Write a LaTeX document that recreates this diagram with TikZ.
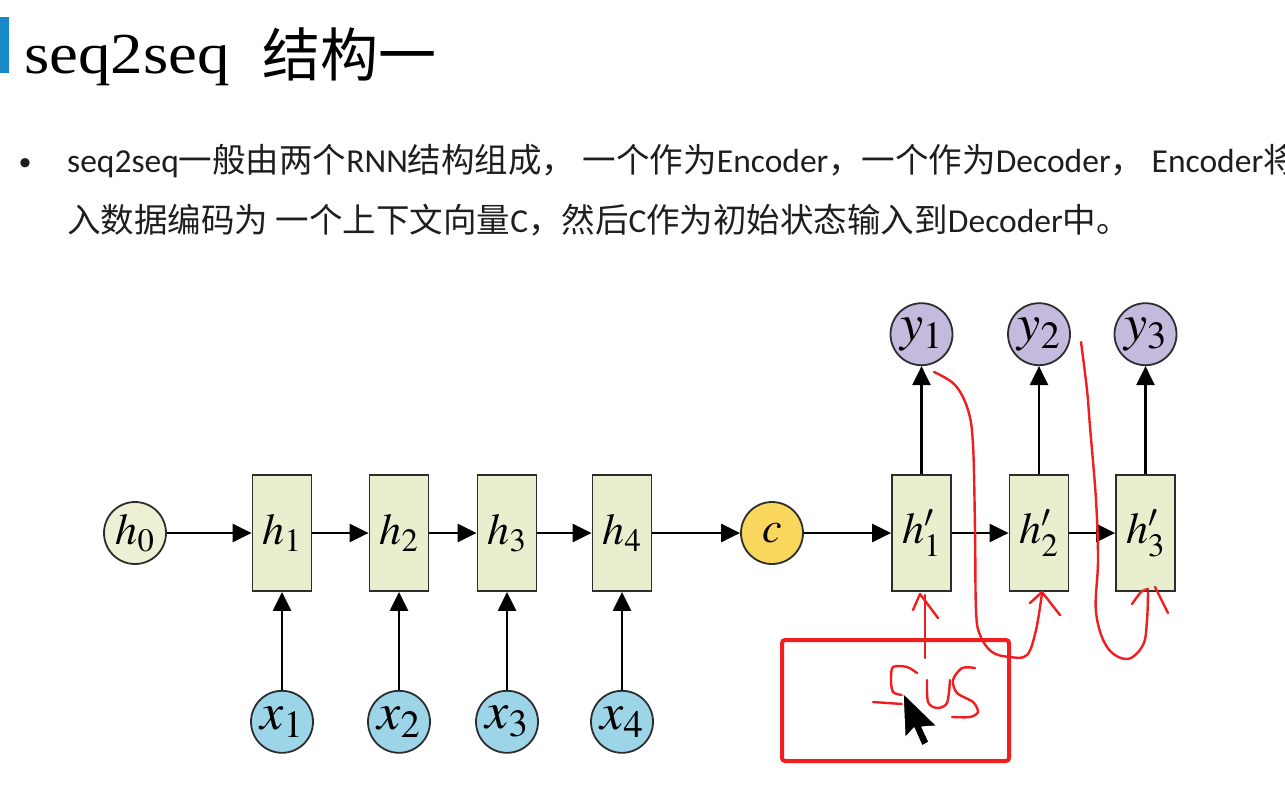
\documentclass[tikz,border=0pt]{standalone}
\usepackage{mathptmx}
\usepackage[no-math]{fontspec}
\setmainfont{Carlito}
\newfontfamily\cjk{Noto Sans CJK SC}
\newfontfamily\titlefont[FakeStretch=1.12]{Liberation Serif}
\usetikzlibrary{arrows.meta,positioning}

\definecolor{barblue}{RGB}{24,136,200}
\definecolor{cellfill}{RGB}{232,238,206}
\definecolor{hzerofill}{RGB}{238,240,214}
\definecolor{xfill}{RGB}{156,212,232}
\definecolor{yfill}{RGB}{196,186,222}
\definecolor{cfill}{RGB}{249,214,92}
\definecolor{inkred}{RGB}{240,30,30}
\definecolor{edgegray}{RGB}{45,45,45}
\definecolor{bodytext}{RGB}{30,30,30}

\tikzset{
    rnncell/.style={draw=edgegray, fill=cellfill, line width=1.8pt, minimum width=59pt,
        minimum height=116pt, inner sep=0pt, font=\fontsize{44}{44}\selectfont},
    unit/.style={circle, draw=edgegray, fill=#1, line width=1.8pt, minimum size=62pt,
        inner sep=0pt, font=\fontsize{44}{44}\selectfont},
    inp/.style={unit=xfill, font=\fontsize{52}{52}\selectfont},
    outp/.style={unit=yfill, font=\fontsize{52}{52}\selectfont},
    flow/.style={line width=2.4pt, -{Triangle[length=19pt,width=18pt]}},
    ink/.style={inkred, line width=2.4pt, line cap=round, line join=round},
    txt/.style={anchor=base west, inner sep=0pt, text=bodytext, font=\fontsize{33.5}{33.5}\selectfont},
}

\begin{document}
\begin{tikzpicture}[x=1pt, y=-1pt]
    \useasboundingbox (0,0) rectangle (1285,796);
    \clip (0,0) rectangle (1285,796);

    % title and bullet text
    \fill [barblue] (0,17) rectangle (9,73);
    \node [anchor=base west, inner sep=0pt, font=\titlefont\fontsize{58}{58}\selectfont] (title) at (24,73) {seq2seq};
    \node [anchor=base west, inner sep=0pt, font=\cjk\fontsize{58}{58}\selectfont] (titlecn) at (262,76) {结构一};
    \node [anchor=base, inner sep=0pt, text=bodytext, font=\fontsize{26}{26}\selectfont] (dot) at (25,170) {•};
    \node [txt] (line1) at (67,172) {seq2seq{\cjk 一般由两个}RNN{\cjk 结构组成，} {\cjk 一个作为}Encoder{\cjk ，一个作为}Decoder{\cjk ，} Encoder{\cjk 将}};
    \node [txt] (line2) at (67,232) {{\cjk 入数据编码为} {\cjk 一个上下文向量}C{\cjk ，然后}C{\cjk 作为初始状态输入到}Decoder{\cjk 中。}};

    % encoder
    \node [unit=hzerofill] (h0) at (135,533) {$h_0$};
    \node [rnncell] (h1) at (282,533) {$h_1$};
    \node [rnncell] (h2) at (399,533) {$h_2$};
    \node [rnncell] (h3) at (507,533) {$h_3$};
    \node [rnncell] (h4) at (622,533) {$h_4$};
    \node [unit=cfill] (c) at (772,533) {$c$};
    \node [inp, below=98pt of h1] (x1) {$x_1$};
    \node [inp, below=98pt of h2] (x2) {$x_2$};
    \node [inp, below=98pt of h3] (x3) {$x_3$};
    \node [inp, below=98pt of h4] (x4) {$x_4$};

    % decoder
    \node [rnncell] (h1p) at (921.5,533) {$h'_1$};
    \node [rnncell] (h2p) at (1039,533) {$h'_2$};
    \node [rnncell] (h3p) at (1145.5,533) {$h'_3$};
    \node [outp, above=108pt of h1p] (y1) {$y_1$};
    \node [outp, above=108pt of h2p] (y2) {$y_2$};
    \node [outp, above=108pt of h3p] (y3) {$y_3$};

    \draw [flow] (h0) -- (h1);
    \draw [flow] (h1) -- (h2);
    \draw [flow] (h2) -- (h3);
    \draw [flow] (h3) -- (h4);
    \draw [flow] (h4) -- (c);
    \draw [flow] (c) -- (h1p);
    \draw [flow] (h1p) -- (h2p);
    \draw [flow] (h2p) -- (h3p);
    \draw [flow] (x1) -- (h1);
    \draw [flow] (x2) -- (h2);
    \draw [flow] (x3) -- (h3);
    \draw [flow] (x4) -- (h4);
    \draw [flow] (h1p) -- (y1);
    \draw [flow] (h2p) -- (y2);
    \draw [flow] (h3p) -- (y3);

    % red handwriting
    \draw [inkred, line width=4pt, rounded corners=3pt] (782,640) rectangle (1009,761);
    \draw [ink] (925,658) -- (925,595);
    \draw [ink] (913,610) -- (920,594) -- (938,618);
    \draw [ink] plot [smooth, tension=0.6] coordinates {(934,372) (955,385) (968,410) (973,445) (975,530) (976,610) (980,635) (992,652) (1010,657) (1027,655) (1036,630) (1042,593)};
    \draw [ink] (1030,603) -- (1042,592) -- (1060,615);
    \draw [ink] plot [smooth, tension=0.6] coordinates {(1081,342) (1087,390) (1090,427) (1096,500) (1098,560) (1096,612) (1107,647) (1127,659) (1143,645) (1147,620) (1148,592)};
    \draw [ink] plot [smooth] coordinates {(1132,604) (1141,592) (1148,589)};
    \draw [ink] (1155,587) -- (1168,613);
    % SOS
    \draw [ink] (873,702) -- (902,704);
    \draw [ink] plot [smooth] coordinates {(917,673) (907,667) (893,667) (891,680) (893,692) (902,695)};
    \draw [ink] plot [smooth] coordinates {(927,680) (928,702) (937,708) (947,703) (950,680)};
    \draw [ink] plot [smooth] coordinates {(975,668) (962,668) (953,680) (957,693) (973,702) (978,712) (970,717) (952,717)};

    % mouse pointer
    \filldraw [fill=black, draw=white, line width=1.2pt, line join=round] (903,693) -- (905,738) -- (914,728) -- (922,746) -- (929,742) -- (922,727) -- (937,726) -- cycle;
\end{tikzpicture}
\end{document}
